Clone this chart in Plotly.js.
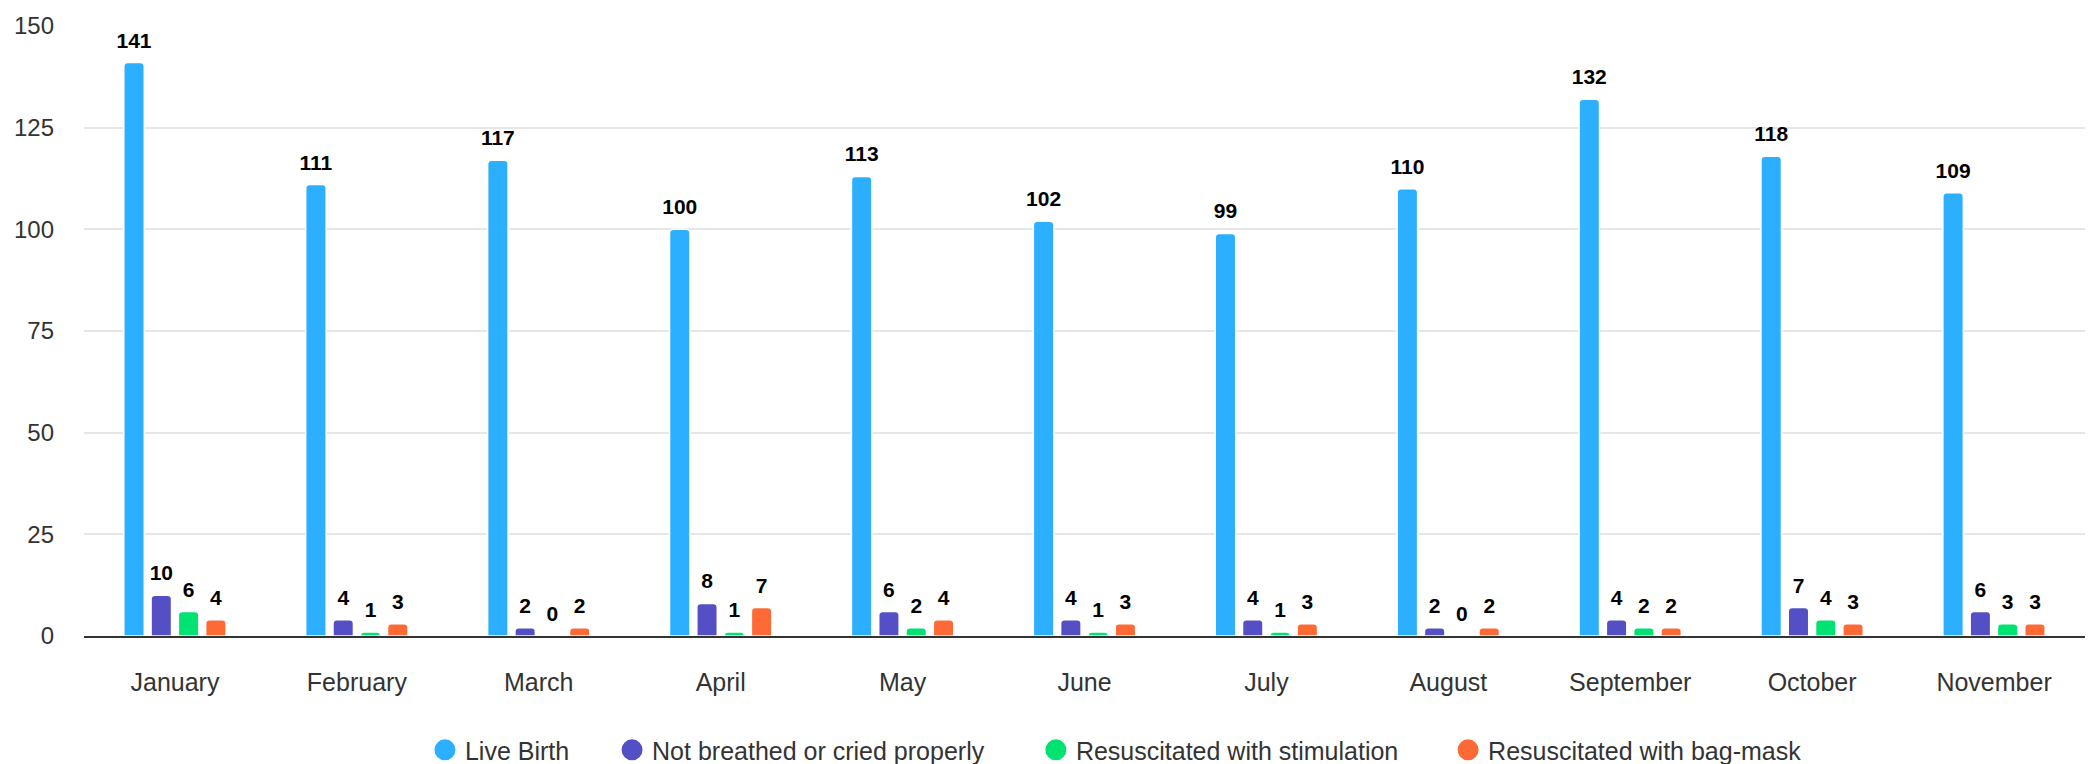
<!DOCTYPE html>
<html>
<head>
<meta charset="utf-8">
<script src="https://cdn.plot.ly/plotly-3.0.1.min.js"></script>
<style>html,body{margin:0;padding:0;background:#fff;}#chart{width:2099px;height:764px;}</style>
</head>
<body>
<div id="chart"></div>
<script>
const months = ["January","February","March","April","May","June","July","August","September","October","November"];
const liveBirth = [141,111,117,100,113,102,99,110,132,118,109];
const notBreathed = [10,4,2,8,6,4,4,2,4,7,6];
const resStimulation = [6,1,0,1,2,1,1,0,2,4,3];
const resBagMask = [4,3,2,7,4,3,3,2,2,3,3];
const seriesNames = ["Live Birth","Not breathed or cried properly","Resuscitated with stimulation","Resuscitated with bag-mask"];
const seriesColors = ["#2caffe","#544fc5","#00e272","#fe6a35"];
const seriesValues = [liveBirth, notBreathed, resStimulation, resBagMask];
const legendIds = ["legend","legend2","legend3","legend4"];

const FONT = "Liberation Sans, Arial, Helvetica, sans-serif";
const traces = [];
// bars
seriesValues.forEach((vals, i) => {
  traces.push({
    type: "bar",
    x: months,
    y: vals,
    offsetgroup: "g" + i,
    name: seriesNames[i],
    showlegend: false,
    marker: {color: seriesColors[i], line: {color: "#ffffff", width: 1.5}, cornerradius: 4},
    hoverinfo: "x+y+name"
  });
});
// data labels (grouped scatter text aligned with bars)
seriesValues.forEach((vals, i) => {
  traces.push({
    type: "scatter",
    mode: "markers+text",
    x: months,
    y: vals,
    offsetgroup: "g" + i,
    name: seriesNames[i],
    showlegend: false,
    text: vals.map(String),
    textposition: "top center",
    textfont: {family: FONT, size: 21, color: "#000000", weight: "bold"},
    marker: {size: 14, color: "rgba(0,0,0,0)"},
    cliponaxis: false,
    hoverinfo: "skip"
  });
});
// legend entries
seriesNames.forEach((n, i) => {
  traces.push({
    type: "scatter",
    mode: "markers",
    x: [null], y: [null],
    offsetgroup: "g" + i,
    name: n,
    legend: legendIds[i],
    marker: {color: seriesColors[i], size: 18, symbol: "circle", line: {color: seriesColors[i], width: 5}},
    showlegend: true,
    hoverinfo: "skip"
  });
});

const legendX = [0.1704, 0.2639, 0.4757, 0.6817];
function mkLegend(x) {
  return {
    orientation: "h",
    x: x, xanchor: "left",
    y: -0.187, yanchor: "middle",
    font: {family: FONT, size: 25, color: "#333333"},
    itemsizing: "trace",
    bgcolor: "rgba(0,0,0,0)"
  };
}

const layout = {
  width: 2099, height: 764,
  margin: {l: 84, r: 14, t: 26, b: 128, autoexpand: false},
  paper_bgcolor: "#ffffff",
  plot_bgcolor: "#ffffff",
  barmode: "group",
  bargap: 0.4,
  bargroupgap: 0.25,
  scattermode: "group",
  scattergap: 0.4,
  font: {family: FONT, color: "#333333", size: 24},
  xaxis: {
    type: "category",
    showgrid: false,
    showline: true, linecolor: "#333333", linewidth: 1.5,
    ticks: "", ticklabelstandoff: 23,
    tickfont: {family: FONT, size: 25, color: "#333333"},
    zeroline: false, fixedrange: true
  },
  yaxis: {
    range: [0, 150],
    tickvals: [0,25,50,75,100,125,150],
    showgrid: true, gridcolor: "#e6e6e6", gridwidth: 1.5,
    zeroline: false, showline: false,
    ticks: "", ticklabelstandoff: 29,
    tickfont: {family: FONT, size: 24, color: "#333333"},
    fixedrange: true
  },
  showlegend: true,
  legend: mkLegend(legendX[0]),
  legend2: mkLegend(legendX[1]),
  legend3: mkLegend(legendX[2]),
  legend4: mkLegend(legendX[3])
};
Plotly.newPlot("chart", traces, layout, {displayModeBar: false, responsive: false});
</script>
</body>
</html>
